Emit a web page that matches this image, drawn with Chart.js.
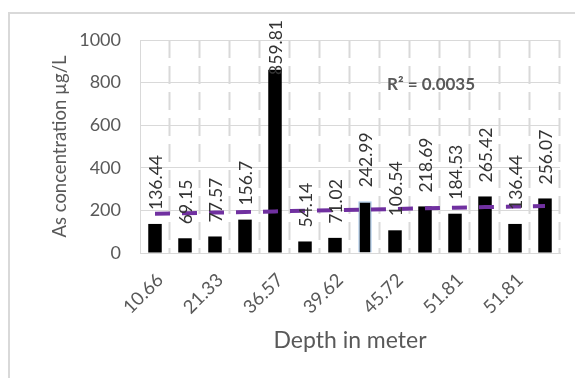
<!DOCTYPE html>
<html>
<head>
<meta charset="utf-8">
<script src="https://cdn.jsdelivr.net/npm/chart.js@4"></script>
<style>
  html, body { margin: 0; padding: 0; background: #fff; }
  #wrap { width: 575px; height: 378px; }
</style>
</head>
<body>
<div id="wrap"><canvas id="mychart"></canvas></div>
<script>
// depth labels (only every other one is printed on the axis)
const depthLabels = ["10.66", "", "21.33", "", "36.57", "", "39.62", "", "45.72", "", "51.81", "", "51.81", ""];
const arsenicValues = [136.44, 69.15, 77.57, 156.7, 859.81, 54.14, 71.02, 242.99, 106.54, 218.69, 184.53, 265.42, 136.44, 256.07];
const yTickStep = 200;
const yMax = 1000;
const r2Label = "R\u00B2 = 0.0035";

// linear trendline (least squares on the bar values, x = 1..n)
const n = arsenicValues.length;
const meanX = (n + 1) / 2;
const meanY = arsenicValues.reduce((a, b) => a + b, 0) / n;
let sxy = 0, sxx = 0;
arsenicValues.forEach((v, i) => {
  sxy += (i + 1 - meanX) * (v - meanY);
  sxx += (i + 1 - meanX) ** 2;
});
const slope = sxy / sxx;
const intercept = meanY - slope * meanX;
const trendValues = arsenicValues.map((v, i) => intercept + slope * (i + 1));

const FONT = "Lato";
const GREY = "#595959";

const chartFrame = {
  id: "chartFrame",
  beforeDraw(chart) {
    const ctx = chart.ctx;
    ctx.save();
    ctx.fillStyle = "#fff";
    ctx.fillRect(0, 0, chart.width, chart.height);
    ctx.strokeStyle = "#d9d9d9";
    ctx.lineWidth = 2;
    ctx.beginPath();
    ctx.moveTo(9, chart.height);
    ctx.lineTo(9, 13);
    ctx.lineTo(chart.width, 13);
    ctx.stroke();
    ctx.restore();
  },
};

// dashed vertical lines on the category boundaries
const catDividers = {
  id: "catDividers",
  beforeDatasetsDraw(chart) {
    const { ctx, chartArea } = chart;
    const xs = chart.scales.x;
    const step = xs.width / depthLabels.length;
    ctx.save();
    ctx.strokeStyle = "#d9d9d9";
    ctx.lineWidth = 2;
    ctx.setLineDash([18, 8]);
    for (let i = 1; i <= depthLabels.length; i++) {
      const x = Math.round(xs.left + i * step) - 0.5;
      ctx.beginPath();
      ctx.moveTo(x, chartArea.top);
      ctx.lineTo(x, chartArea.bottom);
      ctx.stroke();
    }
    ctx.restore();
  },
};

// 45 degree category labels, right end just right of the tick
const depthTicks = {
  id: "depthTicks",
  afterDraw(chart) {
    const ctx = chart.ctx;
    const xs = chart.scales.x;
    ctx.save();
    ctx.font = "18.5px " + FONT;
    ctx.fillStyle = GREY;
    ctx.textAlign = "right";
    ctx.textBaseline = "middle";
    depthLabels.forEach((lbl, i) => {
      if (!lbl) return;
      ctx.save();
      ctx.translate(xs.getPixelForValue(i) + 5, xs.top + 24);
      ctx.rotate(-Math.PI / 4);
      ctx.fillText(lbl, 0, 0);
      ctx.restore();
    });
    ctx.restore();
  },
};

const barLabels = {
  id: "barLabels",
  afterDatasetsDraw(chart) {
    const ctx = chart.ctx;
    const meta = chart.getDatasetMeta(1);
    ctx.save();
    ctx.font = "17.5px " + FONT;
    ctx.fillStyle = "#333333";
    ctx.textAlign = "left";
    ctx.textBaseline = "middle";
    meta.data.forEach((bar, i) => {
      const txt = String(arsenicValues[i]);
      const w = ctx.measureText(txt).width;
      let start = bar.y - 14;
      if (start - w < 20) start = 20 + w;
      ctx.save();
      ctx.translate(bar.x + 1, start);
      ctx.rotate(-Math.PI / 2);
      ctx.fillText(txt, 0, 0);
      ctx.restore();
    });
    ctx.restore();
  },
};

const r2Text = {
  id: "r2Text",
  afterDraw(chart) {
    const ctx = chart.ctx;
    const x = chart.scales.x.getPixelForValue(8) - 8;
    const y = chart.scales.y.getPixelForValue(790);
    ctx.save();
    ctx.font = "bold 17px " + FONT;
    ctx.fillStyle = GREY;
    ctx.textAlign = "left";
    ctx.textBaseline = "middle";
    ctx.fillText(r2Label, x, y);
    ctx.restore();
  },
};

const ctx = document.getElementById("mychart").getContext("2d");

new Chart(ctx, {
  type: "bar",
  data: {
    labels: depthLabels,
    datasets: [
      {
        type: "line",
        label: "Linear trend",
        data: trendValues,
        borderColor: "#7030a0",
        borderWidth: 4,
        borderDash: [15, 12],
        pointRadius: 0,
        fill: false,
      },
      {
        label: "As concentration",
        data: arsenicValues,
        backgroundColor: "#000",
        borderColor: arsenicValues.map((v, i) => (i === 7 ? "#a9c8e8" : "#000")),
        borderWidth: arsenicValues.map((v, i) => (i === 7 ? 1.5 : 0)),
        categoryPercentage: 1,
        barPercentage: 0.45,
      },
    ],
  },
  options: {
    responsive: true,
    maintainAspectRatio: false,
    animation: false,
    layout: { padding: { left: 0, right: 15, top: 40, bottom: 0 } },
    plugins: {
      legend: { display: false },
      tooltip: { enabled: false },
    },
    scales: {
      x: {
        afterFit(scale) { scale.height = 125; },
        grid: { display: false },
        border: { display: true, color: "#d9d9d9", width: 1 },
        ticks: { display: false },
        title: {
          display: true,
          text: "Depth in meter",
          color: GREY,
          font: { family: FONT, size: 23 },
          padding: { top: 0, bottom: 24 },
        },
      },
      y: {
        min: 0,
        max: yMax,
        afterFit(scale) { scale.width = 140; },
        grid: { color: "#d9d9d9", lineWidth: 1, drawTicks: false },
        border: { display: true, color: "#d9d9d9", width: 1 },
        ticks: {
          stepSize: yTickStep,
          padding: 19,
          color: GREY,
          font: { family: FONT, size: 18 },
          callback: (v) => String(v),
        },
        title: {
          display: true,
          text: "As concentration \u00B5g/L",
          color: GREY,
          font: { family: FONT, size: 18.5 },
          padding: { top: 49, bottom: 0 },
        },
      },
    },
  },
  plugins: [chartFrame, catDividers, depthTicks, barLabels, r2Text],
});
</script>
</body>
</html>
